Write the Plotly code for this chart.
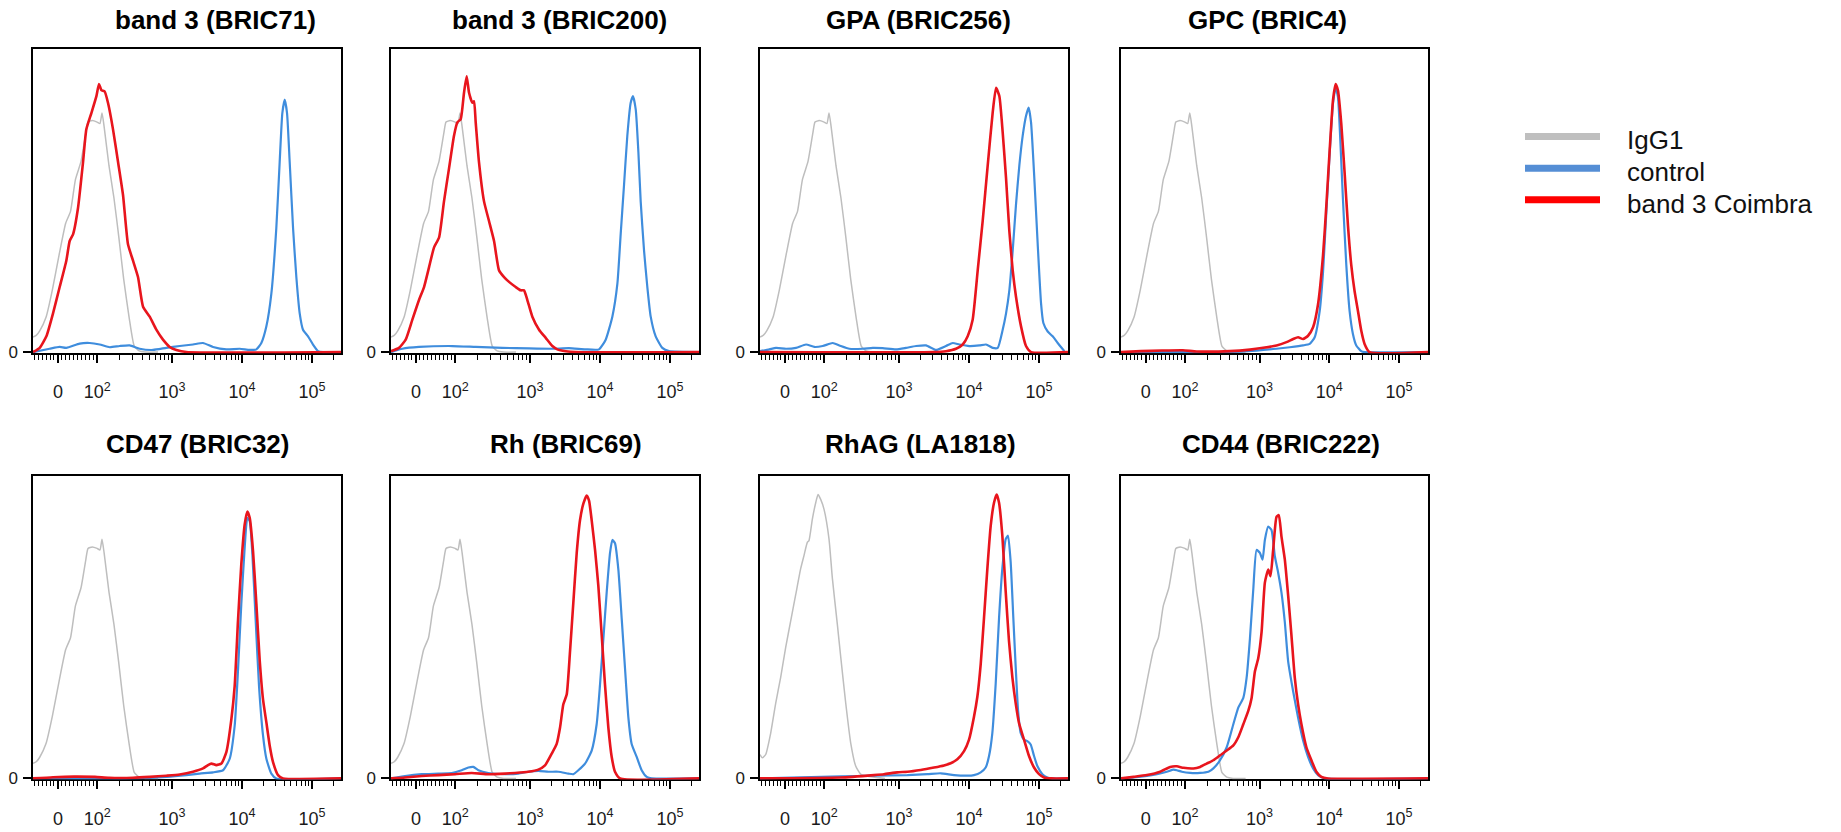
import math
import plotly.graph_objects as go

# ---------------- data (x = logicle display channel in decades, y = % of axis height) -------------
IGG1_X = [1.014, 1.06, 1.11, 1.20, 1.29, 1.39, 1.48, 1.55, 1.62, 1.70, 1.77, 1.80, 1.86, 1.93, 1.97,
          2.00, 2.03, 2.10, 2.17, 2.24, 2.31, 2.39, 2.46, 2.53, 2.62, 2.80]
IGG1_Y = [5.0, 5.5, 7.0, 11.5, 20.5, 32.5, 42.5, 46.5, 57.0, 63.0, 72.5, 76.0, 76.5, 76.0, 75.5,
          79.0, 74.5, 61.5, 51.0, 38.0, 24.0, 11.0, 2.0, 0.4, 0.0, 0.0]

IGG1_RHAG_X = [1.014, 1.048, 1.095, 1.167, 1.238, 1.31, 1.381, 1.452, 1.524, 1.595, 1.643, 1.69, 1.714,
               1.762, 1.81, 1.843, 1.881, 1.929, 2.0, 2.048, 2.119, 2.167, 2.238, 2.31, 2.381, 2.452,
               2.548, 2.8]
IGG1_RHAG_Y = [7.9, 6.8, 7.9, 15.0, 24.8, 33.5, 43.3, 52.0, 60.7, 69.3, 73.7, 78.0, 78.6,
               85.7, 91.1, 93.8, 92.2, 88.9, 79.1, 66.1, 50.9, 40.2, 25.0, 11.7, 4.1, 1.4,
               0.7, 0.0]

BRIC71_COIMBRA_X = [1.014, 1.11, 1.205, 1.3, 1.395, 1.49, 1.538, 1.586, 1.657, 1.729, 1.776, 1.848,
                    1.919, 1.957, 1.99, 2.038, 2.086, 2.157, 2.229, 2.3, 2.371, 2.443, 2.514, 2.586,
                    2.681, 2.776, 2.871, 2.967, 3.062, 3.205, 5.414]
BRIC71_COIMBRA_Y = [0, 1.4, 5.2, 12.8, 21.5, 30.2, 36.7, 38.9, 47.6, 62.8, 73.6, 79.0,
                    84.5, 88.6, 86.6, 86.1, 82.3, 73.6, 62.8, 51.9, 35.6, 30.2, 24.8, 15.0,
                    11.7, 7.4, 4.1, 1.7, 0.7, 0, 0]
BRIC71_CONTROL_X = [1.014, 1.252, 1.395, 1.49, 1.681, 1.824, 1.967, 2.11, 2.252, 2.395, 2.538, 2.729,
                    2.919, 3.11, 3.3, 3.443, 3.586, 3.776, 3.967, 4.11, 4.205, 4.276, 4.348, 4.419,
                    4.49, 4.538, 4.576, 4.61, 4.643, 4.681, 4.729, 4.776, 4.824, 4.871, 4.943, 5.014,
                    5.086, 5.157, 5.414]
BRIC71_CONTROL_Y = [0, 1.1, 1.7, 1.4, 2.8, 3.0, 2.5, 1.6, 2.0, 2.2, 1.1, 0.7,
                    1.4, 2.0, 2.5, 3.0, 1.7, 0.9, 1.1, 0.7, 0.9, 3.0, 8.5, 19.3,
                    41.0, 62.8, 79.0, 83.4, 79.0, 62.8, 41.0, 24.8, 12.8, 7.4, 5.2, 2.5,
                    0.3, 0, 0]

BRIC200_COIMBRA_X = [1.014, 1.129, 1.224, 1.319, 1.414, 1.486, 1.557, 1.629, 1.7, 1.771, 1.843, 1.914,
                     1.962, 2.01, 2.057, 2.095, 2.129, 2.176, 2.2, 2.224, 2.271, 2.343, 2.414, 2.486,
                     2.557, 2.629, 2.7, 2.795, 2.867, 2.914, 2.962, 3.033, 3.129, 3.224, 3.319, 3.39,
                     3.51, 3.652, 5.414]
BRIC200_COIMBRA_Y = [0.3, 1.4, 4.1, 10.7, 17.2, 21.5, 28.0, 34.6, 37.8, 49.8, 60.7, 71.5,
                     75.9, 77.0, 85.7, 91.1, 85.7, 82.4, 82.9, 75.9, 62.8, 49.8, 43.3, 36.7,
                     27.0, 24.8, 23.2, 21.5, 20.4, 20.4, 17.2, 11.7, 7.4, 4.7, 2.0, 0.9,
                     0.3, 0, 0]
BRIC200_CONTROL_X = [1.014, 1.176, 1.414, 1.89, 2.224, 2.605, 2.986, 3.319, 3.557, 3.795, 3.986, 4.081,
                     4.176, 4.248, 4.295, 4.343, 4.39, 4.438, 4.471, 4.51, 4.548, 4.581, 4.629, 4.676,
                     4.724, 4.795, 4.89, 4.986, 5.414]
BRIC200_CONTROL_Y = [0, 1.1, 1.7, 2.0, 1.7, 1.4, 1.2, 1.1, 1.3, 0.9, 0.9, 4.1,
                     11.7, 22.6, 38.9, 55.2, 71.5, 82.4, 84.6, 80.2, 66.1, 49.8, 33.5, 21.5,
                     11.7, 5.2, 1.4, 0.3, 0]

BRIC256_COIMBRA_X = [1.014, 3.5, 3.671, 3.814, 3.91, 3.981, 4.052, 4.124, 4.195, 4.267, 4.338, 4.386,
                     4.433, 4.481, 4.529, 4.576, 4.624, 4.671, 4.743, 4.814, 4.886, 5.414]
BRIC256_COIMBRA_Y = [0, 0, 0.3, 1.1, 2.5, 5.2, 10.7, 27.0, 43.3, 61.7, 79.1, 87.3,
                     84.6, 72.6, 57.4, 40.0, 27.0, 18.3, 8.5, 2.0, 0, 0]
BRIC256_CONTROL_X = [1.014, 1.148, 1.243, 1.386, 1.529, 1.671, 1.79, 1.91, 2.052, 2.148, 2.29, 2.481,
                     2.624, 2.767, 2.957, 3.1, 3.243, 3.386, 3.529, 3.671, 3.767, 3.862, 4.005, 4.148,
                     4.243, 4.338, 4.41, 4.481, 4.529, 4.576, 4.624, 4.671, 4.719, 4.767, 4.814, 4.852,
                     4.886, 4.933, 4.981, 5.029, 5.062, 5.124, 5.195, 5.267, 5.362]
BRIC256_CONTROL_Y = [0.3, 0.9, 1.4, 1.1, 1.4, 2.5, 1.7, 2.0, 3.0, 2.2, 1.1, 1.1,
                     1.4, 1.3, 0.9, 1.4, 2.0, 2.2, 0.7, 2.0, 3.0, 2.5, 2.0, 2.2,
                     2.5, 1.4, 1.4, 7.4, 12.8, 20.4, 33.5, 48.7, 61.7, 71.5, 78.0, 80.8,
                     75.9, 57.4, 35.7, 16.1, 9.6, 6.8, 5.2, 3.0, 0.3]

BRIC4_COIMBRA_X = [1.014, 1.3, 1.6, 1.9, 2.1, 2.576, 2.862, 3.052, 3.243, 3.386, 3.481, 3.552,
                   3.624, 3.695, 3.767, 3.838, 3.91, 3.957, 4.005, 4.052, 4.09, 4.124, 4.171, 4.219,
                   4.267, 4.314, 4.362, 4.41, 4.457, 4.505, 4.576, 5.414]
BRIC4_COIMBRA_Y = [0, 0.3, 0.5, 0.6, 0.2, 0.3, 0.8, 1.4, 2.2, 3.3, 4.3, 4.9,
                   4.3, 5.4, 8.2, 15.8, 32.1, 48.4, 66.8, 83.2, 88.6, 86.4, 75.5, 59.2,
                   41.8, 28.8, 20.1, 13.6, 7.1, 2.7, 0, 0]
BRIC4_CONTROL_X = [1.014, 2.5, 2.957, 3.243, 3.433, 3.624, 3.719, 3.79, 3.862, 3.91, 3.957, 4.005,
                   4.052, 4.09, 4.124, 4.157, 4.195, 4.243, 4.29, 4.338, 4.386, 4.457, 4.505, 5.414]
BRIC4_CONTROL_Y = [0, 0, 0.5, 1.1, 1.6, 2.2, 2.7, 4.9, 13.6, 26.6, 46.2, 65.8,
                   82.1, 87.5, 84.2, 70.1, 50.5, 28.8, 13.6, 6.0, 2.2, 0.3, 0, 0]

BRIC32_COIMBRA_X = [1.014, 1.3, 1.6, 1.9, 2.1, 2.443, 2.681, 2.919, 3.11, 3.3, 3.443, 3.514,
                    3.562, 3.633, 3.705, 3.776, 3.848, 3.895, 3.943, 3.99, 4.038, 4.076, 4.11, 4.157,
                    4.205, 4.252, 4.3, 4.348, 4.395, 4.443, 4.514, 4.586, 5.414]
BRIC32_COIMBRA_Y = [0, 0.4, 0.6, 0.5, 0.2, 0.2, 0.5, 0.9, 1.3, 2.2, 3.3, 4.4,
                    4.9, 4.4, 4.9, 8.7, 19.6, 30.5, 52.3, 70.8, 83.9, 88.2, 86.1, 75.2,
                    57.7, 39.2, 26.1, 18.5, 10.9, 5.4, 1.1, 0, 0]
BRIC32_CONTROL_X = [1.014, 2.5, 2.919, 3.205, 3.395, 3.586, 3.729, 3.824, 3.895, 3.943, 3.99, 4.038,
                    4.076, 4.11, 4.148, 4.195, 4.243, 4.3, 4.348, 4.419, 4.49, 5.414]
BRIC32_CONTROL_Y = [0, 0, 0.5, 1.1, 1.6, 2.0, 2.7, 6.5, 17.4, 35.9, 57.7, 76.3,
                    86.1, 85.0, 74.1, 52.3, 30.5, 14.2, 6.5, 1.6, 0, 0]

BRIC69_COIMBRA_X = [1.014, 1.214, 1.452, 1.69, 1.929, 2.167, 2.405, 2.643, 2.786, 2.976, 3.119, 3.214,
                    3.31, 3.381, 3.429, 3.476, 3.524, 3.571, 3.619, 3.667, 3.714, 3.762, 3.81, 3.843,
                    3.881, 3.929, 3.976, 4.024, 4.071, 4.119, 4.167, 4.214, 4.286, 5.414]
BRIC69_COIMBRA_Y = [0, 0.3, 0.8, 1.1, 1.4, 1.8, 1.4, 1.6, 1.8, 2.2, 2.9, 4.3,
                    8.2, 11.4, 16.8, 24.5, 27.7, 41.8, 58.2, 74.5, 85.3, 90.8, 93.5, 91.8,
                    85.3, 75.5, 63.6, 47.3, 31.0, 16.8, 7.1, 2.2, 0, 0]
BRIC69_CONTROL_X = [1.014, 1.214, 1.452, 1.69, 1.881, 2.024, 2.119, 2.19, 2.262, 2.405, 2.643, 2.833,
                    2.976, 3.119, 3.262, 3.405, 3.548, 3.619, 3.69, 3.786, 3.881, 3.952, 4.0, 4.048,
                    4.095, 4.143, 4.176, 4.214, 4.262, 4.31, 4.357, 4.405, 4.452, 4.524, 4.595, 4.667,
                    4.738, 5.414]
BRIC69_CONTROL_Y = [0, 0.8, 1.4, 1.6, 1.8, 2.7, 3.6, 3.8, 2.7, 1.8, 1.4, 1.6,
                    2.2, 2.5, 2.2, 2.2, 1.6, 1.4, 2.7, 4.9, 9.2, 17.9, 31.0, 46.2,
                    61.4, 74.5, 78.8, 77.7, 69.0, 52.7, 36.4, 20.1, 11.4, 7.1, 2.7, 0.5,
                    0, 0]

LA1818_COIMBRA_X = [1.014, 2.167, 2.643, 2.786, 2.976, 3.119, 3.31, 3.5, 3.643, 3.738, 3.833, 3.929,
                    4.0, 4.071, 4.119, 4.167, 4.214, 4.262, 4.31, 4.357, 4.395, 4.429, 4.476, 4.524,
                    4.571, 4.619, 4.667, 4.714, 4.786, 4.857, 4.929, 5.0, 5.071, 5.167, 5.414]
LA1818_COIMBRA_Y = [0, 0.3, 1.1, 1.4, 2.0, 2.2, 2.8, 3.6, 4.3, 5.0, 6.3, 9.0,
                    12.8, 20.4, 27.0, 37.8, 53.0, 69.3, 83.5, 91.1, 93.8, 91.1, 80.2, 61.7,
                    45.4, 33.5, 24.8, 18.3, 12.8, 7.4, 3.6, 1.4, 0.3, 0, 0]
LA1818_CONTROL_X = [1.014, 2.167, 2.643, 3.119, 3.405, 3.595, 3.786, 3.976, 4.071, 4.167, 4.238, 4.286,
                    4.333, 4.381, 4.429, 4.476, 4.524, 4.557, 4.595, 4.633, 4.667, 4.7, 4.738, 4.786,
                    4.833, 4.881, 4.929, 4.976, 5.048, 5.119, 5.19, 5.414]
LA1818_CONTROL_Y = [0, 0.7, 0.9, 1.1, 1.4, 1.7, 1.1, 0.9, 1.1, 2.0, 3.6, 7.4,
                    15.0, 31.3, 53.0, 69.3, 79.1, 80.2, 71.5, 53.0, 36.7, 22.6, 15.0, 12.8,
                    12.3, 11.2, 7.4, 4.1, 1.4, 0.3, 0, 0]

BRIC222_COIMBRA_X = [1.014, 1.195, 1.386, 1.576, 1.719, 1.814, 1.91, 2.052, 2.148, 2.243, 2.338, 2.433,
                     2.529, 2.624, 2.695, 2.767, 2.838, 2.886, 2.933, 2.981, 3.029, 3.076, 3.124, 3.157,
                     3.195, 3.243, 3.276, 3.314, 3.362, 3.41, 3.457, 3.505, 3.552, 3.6, 3.671, 3.743,
                     3.814, 3.886, 3.981, 5.414]
BRIC222_COIMBRA_Y = [0, 0.5, 1.1, 2.2, 3.8, 4.0, 3.5, 3.3, 3.8, 4.9, 6.0, 7.6,
                     9.2, 10.9, 13.6, 17.9, 22.3, 26.6, 35.3, 39.7, 48.4, 64.7, 69.0, 66.8,
                     75.5, 86.4, 87.0, 79.9, 72.3, 60.3, 47.3, 33.2, 24.5, 17.9, 10.3, 6.0,
                     2.2, 0.5, 0, 0]
BRIC222_CONTROL_X = [1.014, 1.195, 1.386, 1.529, 1.671, 1.767, 1.814, 1.886, 2.005, 2.148, 2.267, 2.338,
                     2.433, 2.529, 2.624, 2.695, 2.767, 2.814, 2.862, 2.91, 2.957, 3.005, 3.043, 3.076,
                     3.124, 3.171, 3.219, 3.267, 3.314, 3.362, 3.41, 3.481, 3.552, 3.624, 3.695, 3.767,
                     3.838, 3.933, 5.414]
BRIC222_CONTROL_Y = [0, 0.3, 0.8, 1.4, 2.2, 2.9, 2.7, 2.2, 1.8, 1.8, 2.2, 3.3,
                     6.0, 10.3, 17.9, 23.4, 26.6, 33.2, 46.2, 62.5, 75.5, 74.5, 72.3, 78.8,
                     83.2, 82.1, 73.4, 67.9, 61.4, 51.6, 38.6, 28.8, 20.1, 12.5, 7.1, 3.3,
                     1.1, 0, 0]

TITLES = ["band 3 (BRIC71)", "band 3 (BRIC200)", "GPA (BRIC256)", "GPC (BRIC4)",
          "CD47 (BRIC32)", "Rh (BRIC69)", "RhAG (LA1818)", "CD44 (BRIC222)"]
SERIES_NAMES = ["IgG1", "control", "band 3 Coimbra"]
X_TICK_LABELS = ["0", "10<sup>2</sup>", "10<sup>3</sup>", "10<sup>4</sup>", "10<sup>5</sup>"]
Y_TICK_LABELS = ["0"]

PANEL_DATA = [
    (IGG1_X, IGG1_Y, BRIC71_CONTROL_X, BRIC71_CONTROL_Y, BRIC71_COIMBRA_X, BRIC71_COIMBRA_Y),
    (IGG1_X, IGG1_Y, BRIC200_CONTROL_X, BRIC200_CONTROL_Y, BRIC200_COIMBRA_X, BRIC200_COIMBRA_Y),
    (IGG1_X, IGG1_Y, BRIC256_CONTROL_X, BRIC256_CONTROL_Y, BRIC256_COIMBRA_X, BRIC256_COIMBRA_Y),
    (IGG1_X, IGG1_Y, BRIC4_CONTROL_X, BRIC4_CONTROL_Y, BRIC4_COIMBRA_X, BRIC4_COIMBRA_Y),
    (IGG1_X, IGG1_Y, BRIC32_CONTROL_X, BRIC32_CONTROL_Y, BRIC32_COIMBRA_X, BRIC32_COIMBRA_Y),
    (IGG1_X, IGG1_Y, BRIC69_CONTROL_X, BRIC69_CONTROL_Y, BRIC69_COIMBRA_X, BRIC69_COIMBRA_Y),
    (IGG1_RHAG_X, IGG1_RHAG_Y, LA1818_CONTROL_X, LA1818_CONTROL_Y, LA1818_COIMBRA_X, LA1818_COIMBRA_Y),
    (IGG1_X, IGG1_Y, BRIC222_CONTROL_X, BRIC222_CONTROL_Y, BRIC222_COIMBRA_X, BRIC222_COIMBRA_Y),
]

# ---------------- styling / layout ----------------
FONT = "Arial, 'Liberation Sans', sans-serif"
SERIES_COLORS = ["#BEBEBE", "#3F8DDD", "#E8151D"]
LEGEND_COLORS = ["#BFBFBF", "#558ED5", "#FF0000"]
SERIES_WIDTHS = [1.5, 2.2, 2.6]

W, H = 1841, 832
COL_L = [33, 391, 760, 1121]
COL_R = [341, 699, 1068, 1428]
ROW_T = [50, 481]
ROW_B = [357, 788]
TITLE_CX = [215, 559, 918, 1267, 198, 566, 920, 1281]
TITLE_CY = [20, 449]

X_RANGE = [1.014, 5.414]
POS_ZERO, POS_E2 = 1.37, 1.933
MAJOR_POS = [POS_ZERO, POS_E2, 3.0, 4.0, 5.0]

minor_pos = []
for v in range(-60, 100, 10):
    if v != 0:
        minor_pos.append(POS_ZERO + v * (POS_E2 - POS_ZERO) / 100.0)
for k in range(2, 10):
    minor_pos.append(POS_E2 + math.log10(k) * (3.0 - POS_E2))
for d in (3, 4, 5):
    for k in range(2, 10):
        p = d + math.log10(k)
        if p < X_RANGE[1]:
            minor_pos.append(p)

fig = go.Figure()
layout_axes = {}
for i, data in enumerate(PANEL_DATA):
    r, c = divmod(i, 4)
    key = "" if i == 0 else str(i + 1)
    xa, ya = "x" + key, "y" + key
    for s in range(3):
        fig.add_trace(go.Scatter(
            x=data[2 * s], y=data[2 * s + 1], mode="lines", name=SERIES_NAMES[s],
            line=dict(color=SERIES_COLORS[s], width=SERIES_WIDTHS[s], shape="spline", smoothing=0.5),
            xaxis=xa, yaxis=ya, showlegend=False, hoverinfo="skip"))
    layout_axes["xaxis" + key] = dict(
        domain=[COL_L[c] / W, COL_R[c] / W], anchor=ya, range=X_RANGE,
        showline=True, mirror=True, linecolor="black", linewidth=1.5,
        showgrid=False, zeroline=False, layer="below traces",
        tickmode="array", tickvals=MAJOR_POS, ticktext=X_TICK_LABELS,
        ticks="outside", ticklen=8, tickwidth=1.5, tickcolor="black",
        tickfont=dict(family=FONT, size=18, color="#1a1a1a"), ticklabelstandoff=14,
        minor=dict(tickmode="array", tickvals=minor_pos, ticks="outside", ticklen=5,
                   tickwidth=1, tickcolor="black", showgrid=False),
        fixedrange=True)
    layout_axes["yaxis" + key] = dict(
        domain=[1 - ROW_B[r] / H, 1 - ROW_T[r] / H], anchor=xa, range=[-0.35, 100],
        showline=True, mirror=True, linecolor="black", linewidth=1.5,
        showgrid=False, zeroline=False, layer="below traces",
        tickmode="array", tickvals=[0], ticktext=Y_TICK_LABELS,
        ticks="outside", ticklen=8, tickwidth=1.5, tickcolor="black",
        tickfont=dict(family=FONT, size=17, color="#1a1a1a"), ticklabelstandoff=2,
        fixedrange=True)

annotations = []
for i, t in enumerate(TITLES):
    r = i // 4
    annotations.append(dict(
        text="<b>%s</b>" % t, x=TITLE_CX[i] / W, y=1 - TITLE_CY[r] / H,
        xref="paper", yref="paper", xanchor="center", yanchor="middle", showarrow=False,
        font=dict(family=FONT, size=26, color="black")))

shapes = []
LEG_X0, LEG_X1, LEG_TX = 1525, 1600, 1625
LEG_Y = [138, 170, 202]
for s, name in enumerate(SERIES_NAMES):
    yy = 1 - LEG_Y[s] / H
    shapes.append(dict(type="line", xref="paper", yref="paper", x0=LEG_X0 / W, x1=LEG_X1 / W,
                       y0=yy, y1=yy, line=dict(color=LEGEND_COLORS[s], width=7)))
    annotations.append(dict(
        text=name, x=LEG_TX / W, y=1 - (LEG_Y[s] + 4) / H, xref="paper", yref="paper",
        xanchor="left", yanchor="middle", showarrow=False,
        font=dict(family=FONT, size=26, color="#111111")))

fig.update_layout(
    width=W, height=H, margin=dict(l=0, r=0, t=0, b=0, pad=0),
    paper_bgcolor="white", plot_bgcolor="white", showlegend=False,
    font=dict(family=FONT, color="black"),
    annotations=annotations, shapes=shapes, **layout_axes)

fig.write_html("out.html", config={"displayModeBar": False},
               post_script="document.body.style.margin='0';document.body.style.overflow='hidden';")
